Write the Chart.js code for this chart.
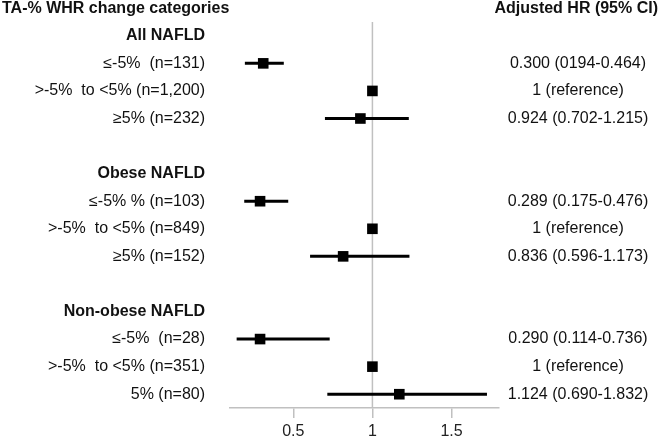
<!DOCTYPE html>
<html lang="en">
<head>
  <meta charset="UTF-8" />
  <title>Forest plot</title>
  <script src="https://cdn.jsdelivr.net/npm/chart.js"></script>
  <style>
    html, body { margin: 0; padding: 0; background: #fff; }
    #wrap { width: 660px; height: 439px; }
  </style>
</head>
<body>
  <div id="wrap"><canvas id="forest" width="660" height="439"></canvas></div>

  <script>
    // rows, top to bottom (header rows have no estimate)
    const rowLabels = [
      'All NAFLD', '≤-5%  (n=131)', '>-5%  to <5% (n=1,200)', '≥5% (n=232)', '',
      'Obese NAFLD', '≤-5% % (n=103)', '>-5%  to <5% (n=849)', '≥5% (n=152)', '',
      'Non-obese NAFLD', '≤-5%  (n=28)', '>-5%  to <5% (n=351)', '5% (n=80)'
    ];
    const headerRows = [0, 5, 10];
    const hr    = [null, 0.31, 1, 0.924, null, null, 0.29, 1, 0.815, null, null, 0.29, 1, 1.17];
    const ciLow = [null, 0.194, null, 0.70, null, null, 0.19, null, 0.606, null, null, 0.142, null, 0.715];
    const ciHigh= [null, 0.44, null, 1.23, null, null, 0.468, null, 1.234, null, null, 0.73, null, 1.724];
    const hrText = [
      '', '0.300 (0194-0.464)', '1 (reference)', '0.924 (0.702-1.215)', '',
      '', '0.289 (0.175-0.476)', '1 (reference)', '0.836 (0.596-1.173)', '',
      '', '0.290 (0.114-0.736)', '1 (reference)', '1.124 (0.690-1.832)'
    ];
    const xTicks = [0.5, 1, 1.5];
    const xTickLabels = ['0.5', '1', '1.5'];

    const FONT = '"Liberation Sans", Arial, sans-serif';

    const points = [];
    hr.forEach((v, i) => { if (v !== null) points.push({ x: v, y: i }); });

    const forestPlugin = {
      id: 'forest',
      beforeDatasetsDraw(chart) {
        const { ctx, chartArea, scales } = chart;
        const x = scales.x, y = scales.y;
        ctx.save();
        // reference line at HR = 1
        ctx.strokeStyle = '#c0c0c0';
        ctx.lineWidth = 1.5;
        ctx.beginPath();
        ctx.moveTo(x.getPixelForValue(1), chartArea.top);
        ctx.lineTo(x.getPixelForValue(1), chartArea.bottom);
        ctx.stroke();
        // confidence intervals
        ctx.strokeStyle = '#000';
        ctx.lineWidth = 3;
        ciLow.forEach((lo, i) => {
          if (lo === null) return;
          const py = y.getPixelForValue(i);
          ctx.beginPath();
          ctx.moveTo(x.getPixelForValue(lo), py);
          ctx.lineTo(x.getPixelForValue(ciHigh[i]), py);
          ctx.stroke();
        });
        ctx.restore();
      },
      afterDraw(chart) {
        const { ctx, scales } = chart;
        const y = scales.y;
        ctx.save();
        ctx.fillStyle = '#111';
        ctx.textBaseline = 'middle';
        // column titles
        ctx.font = 'bold 16px ' + FONT;
        ctx.textAlign = 'left';
        ctx.fillText('TA-% WHR change categories', 2, y.getPixelForValue(-1));
        ctx.textAlign = 'right';
        ctx.fillText('Adjusted HR (95% CI)', 658, y.getPixelForValue(-1));
        // row labels
        rowLabels.forEach((lab, i) => {
          const py = y.getPixelForValue(i);
          ctx.font = (headerRows.includes(i) ? 'bold ' : '') + '16px ' + FONT;
          ctx.textAlign = 'right';
          ctx.fillText(lab, 205, py);
          ctx.font = '16px ' + FONT;
          ctx.textAlign = 'center';
          ctx.fillText(hrText[i], 578, py);
        });
        ctx.restore();
      }
    };

    new Chart(document.getElementById('forest'), {
      type: 'scatter',
      data: {
        datasets: [{
          data: points,
          pointStyle: 'rect',
          pointRadius: 7.5,
          pointHoverRadius: 7.5,
          backgroundColor: '#000',
          borderColor: '#000',
          borderWidth: 0
        }]
      },
      options: {
        responsive: false,
        animation: false,
        events: [],
        layout: { padding: { left: 230, right: 161, top: 22, bottom: 0 } },
        plugins: { legend: { display: false }, tooltip: { enabled: false } },
        scales: {
          x: {
            type: 'linear',
            min: 0.1,
            max: 1.8,
            afterBuildTicks: (scale) => { scale.ticks = xTicks.map(v => ({ value: v })); },
            afterFit: (scale) => { scale.height = 31; },
            grid: { display: true, drawOnChartArea: false, drawTicks: true, tickLength: 10, color: '#c0c0c0', lineWidth: 1.5 },
            border: { display: true, color: '#c0c0c0', width: 1.5 },
            ticks: {
              color: '#222',
              font: { family: FONT, size: 16 },
              padding: 4,
              maxRotation: 0,
              callback: (v) => xTickLabels[xTicks.indexOf(v)]
            }
          },
          y: {
            type: 'linear',
            min: -0.5,
            max: 13.5,
            reverse: true,
            display: false
          }
        }
      },
      plugins: [forestPlugin]
    });
  </script>
</body>
</html>
